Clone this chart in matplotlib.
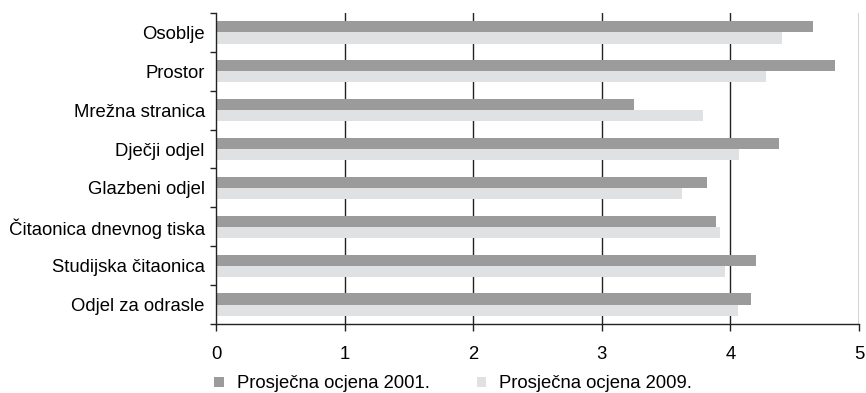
import matplotlib
matplotlib.use("Agg")
import matplotlib.pyplot as plt
import numpy as np
from matplotlib.patches import Patch

plt.rcParams['font.family'] = ['Liberation Sans', 'DejaVu Sans']

categories = ["Osoblje", "Prostor", "Mrežna stranica", "Dječji odjel",
              "Glazbeni odjel", "Čitaonica dnevnog tiska",
              "Studijska čitaonica", "Odjel za odrasle"]
ocjena_2001 = [4.64, 4.81, 3.25, 4.38, 3.82, 3.89, 4.20, 4.16]
ocjena_2009 = [4.40, 4.28, 3.79, 4.07, 3.62, 3.92, 3.96, 4.06]
series_labels = ["Prosječna ocjena 2001.", "Prosječna ocjena 2009."]
x_ticks = [0, 1, 2, 3, 4, 5]

c2001 = "#9b9b9b"
c2009 = "#e0e1e3"
ink = "#222222"
fs = 13.3

fig = plt.figure(figsize=(8.66, 3.93), dpi=100)
ax = fig.add_axes([0.2494, 0.1756, 0.7425, 0.7913])

n = len(categories)
y = np.arange(n)[::-1]
h = 0.285
ax.barh(y + h / 2, ocjena_2001, height=h, color=c2001, zorder=3)
ax.barh(y - h / 2, ocjena_2009, height=h, color=c2009, zorder=3)

ax.set_xlim(0, 5)
ax.set_ylim(-0.5, n - 0.5)
ax.set_xticks(x_ticks)
ax.set_xticklabels([str(t) for t in x_ticks], fontsize=fs)
ax.tick_params(axis='x', length=5, width=1, color=ink, pad=11)

ax.set_yticks(y)
ax.set_yticklabels(categories, fontsize=fs)
ax.set_yticks(np.arange(n + 1) - 0.5, minor=True)
ax.tick_params(axis='y', which='major', length=0, pad=8)
ax.tick_params(axis='y', which='minor', length=4.5, width=1, color=ink)

for xv in x_ticks[1:]:
    ax.axvline(xv, color=ink, lw=1, zorder=2)

for s in ['top', 'right']:
    ax.spines[s].set_visible(False)
for s in ['left', 'bottom']:
    ax.spines[s].set_color(ink)
    ax.spines[s].set_linewidth(1)
    ax.spines[s].set_zorder(4)

handles = [Patch(facecolor=c2001, edgecolor='none'),
           Patch(facecolor=c2009, edgecolor='none')]
fig.legend(handles, series_labels, loc='center left',
           bbox_to_anchor=(214 / 866, 1 - 384 / 393), ncol=2, frameon=False,
           fontsize=fs, handlelength=0.52, handleheight=0.52,
           handletextpad=0.7, columnspacing=2.55,
           borderpad=0, borderaxespad=0)

fig.savefig("out.png", dpi=100)
